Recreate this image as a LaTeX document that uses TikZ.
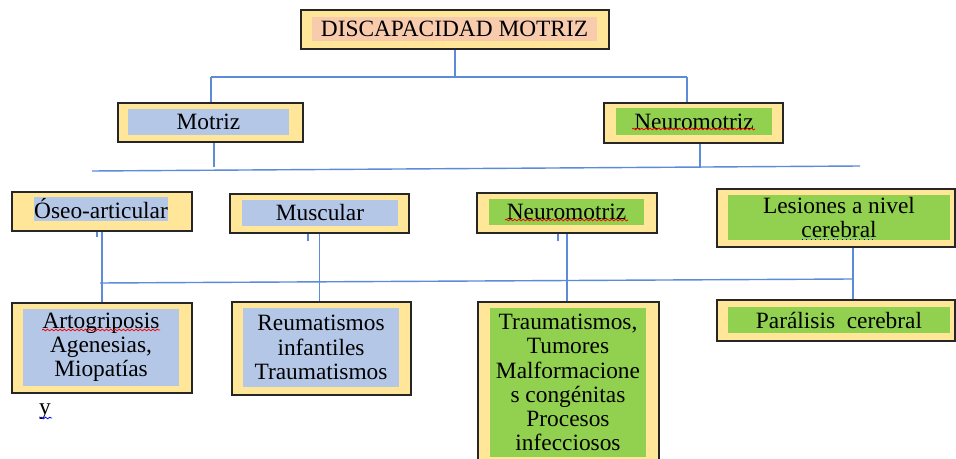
\documentclass[tikz,border=0pt]{standalone}
\usepackage{fontspec}
\setmainfont{Liberation Serif}
\usetikzlibrary{decorations.pathmorphing}

\definecolor{boxyel}{HTML}{FFE699}
\definecolor{salmon}{HTML}{F8CBAD}
\definecolor{boxblue}{HTML}{B4C7E7}
\definecolor{boxgreen}{HTML}{92D050}
\definecolor{linkblue}{HTML}{5B8BD9}

\tikzset{
  outer/.style={draw=black!85, line width=0.9pt, fill=boxyel, inner sep=0pt},
  inner/.style={fill=#1, inner sep=0pt, align=center,
    font=\fontsize{13.3}{13.8}\selectfont},
  link/.style={draw=linkblue, line width=0.8pt},
  spell/.style={draw=#1, line width=0.45pt, decorate,
    decoration={snake, amplitude=0.45pt, segment length=2.4pt}}
}

\begin{document}
\begin{tikzpicture}[x=0.02cm, y=-0.02cm]
\clip (0,0) rectangle (956,459);
\fill[white] (0,0) rectangle (956,459);

% top
\node[outer, minimum width=6.16cm, minimum height=0.78cm] (title) at (455,29.5) {};
\node[inner=salmon, minimum width=5.7cm, minimum height=0.48cm] (titlet) at (454.5,29) {DISCAPACIDAD MOTRIZ};

% level 1
\node[outer, minimum width=3.7cm, minimum height=0.78cm] (motriz) at (210.5,122.5) {};
\node[inner=boxblue, minimum width=3.22cm, minimum height=0.52cm] (motrizt) at (208.5,122) {Motriz};
\node[outer, minimum width=3.58cm, minimum height=0.8cm] (neuro) at (693.5,123) {};
\node[inner=boxgreen, minimum width=3.12cm, minimum height=0.54cm] (neurot) at (694,121.5) {Neuromotriz};

% level 2
\node[outer, minimum width=3.6cm, minimum height=0.78cm] (oseo) at (102,211.5) {};
\node[inner=boxblue, minimum width=2.68cm, minimum height=0.48cm] (oseot) at (101,209) {Óseo-articular};
\node[outer, minimum width=3.58cm, minimum height=0.78cm] (musc) at (319.5,213.5) {};
\node[inner=boxblue, minimum width=3.12cm, minimum height=0.52cm] (musct) at (320,213) {Muscular};
\node[outer, minimum width=3.6cm, minimum height=0.8cm] (neurob) at (567,213) {};
\node[inner=boxgreen, minimum width=3.1cm, minimum height=0.52cm] (neurobt) at (566.5,212) {Neuromotriz};
\node[outer, minimum width=4.76cm, minimum height=1.16cm] (lesion) at (836,218) {};
\node[inner=boxgreen, minimum width=4.44cm, minimum height=0.9cm] (leciont) at (839,217.5) {Lesiones a nivel\\cerebral};

% level 3
\node[outer, minimum width=3.6cm, minimum height=1.8cm] (arto) at (102,348) {};
\node[inner=boxblue, minimum width=3.12cm, minimum height=1.54cm] (artot) at (101,347.5) {Artogriposis\\Agenesias,\\Miopatías};
\node[outer, minimum width=3.58cm, minimum height=1.86cm] (reuma) at (321.5,348.5) {};
\node[inner=boxblue, minimum width=3.12cm, minimum height=1.58cm] (reumat) at (321,347.5) {Reumatismos\\infantiles\\Traumatismos};
\node[outer, minimum width=3.62cm, minimum height=3.36cm] (trauma) at (568.5,386) {};
\node[inner=boxgreen, minimum width=3.12cm, minimum height=2.98cm] (traumat) at (568,382.5) {Traumatismos,\\Tumores\\Malformacione\\s congénitas\\Procesos\\infecciosos};
\node[outer, minimum width=4.76cm, minimum height=0.82cm] (paral) at (836,320.5) {};
\node[inner=boxgreen, minimum width=4.44cm, minimum height=0.52cm] (paralt) at (839,320) {Parálisis\ \ cerebral};

\node[inner=white, anchor=base] (yy) at (45,414) {y};

% connectors
\coordinate (busa1) at (211,77);
\coordinate (busa2) at (687,77);
\draw[link] (title.south) -- (title.south |- busa1);
\draw[link] (busa1) -- (busa2);
\draw[link] (busa1) -- (busa1 |- motriz.north);
\draw[link] (busa2) -- (busa2 |- neuro.north);

\coordinate (busb1) at (92,171);
\coordinate (busb2) at (860,166);
\draw[link] (busb1) -- (busb2);
\draw[link] ([xshift=0.07cm]motriz.south) -- ++(0,24);
\draw[link] ([xshift=0.13cm]neuro.south) -- ++(0,24);

\coordinate (busc1) at (100,283);
\coordinate (busc2) at (852,279);
\draw[link] (busc1) -- (busc2);
\draw[link] (oseo.south) -- (arto.north);
\draw[link] ([xshift=-0.1cm]oseo.south) -- ++(0,5);
\draw[link] (musc.south) -- (musc.south |- reuma.north);
\draw[link] ([xshift=-0.23cm]musc.south) -- ++(0,7);
\draw[link] (neurob.south) -- (neurob.south |- trauma.north);
\draw[link] ([xshift=-0.18cm]neurob.south) -- ++(0,7);
\draw[link] ([xshift=0.34cm]lesion.south) -- ([xshift=0.34cm]paral.north);

% spelling marks
\draw[spell=red] (632,129) -- (755,129);
\draw[spell=red] (505,220) -- (628,220);
\draw[spell=red] (42,330) -- (160,330);
\draw[spell=blue] (40,418) -- (52,418);
\draw[blue, line width=0.5pt, dotted] (802,239) -- (875,239);
\end{tikzpicture}
\end{document}
